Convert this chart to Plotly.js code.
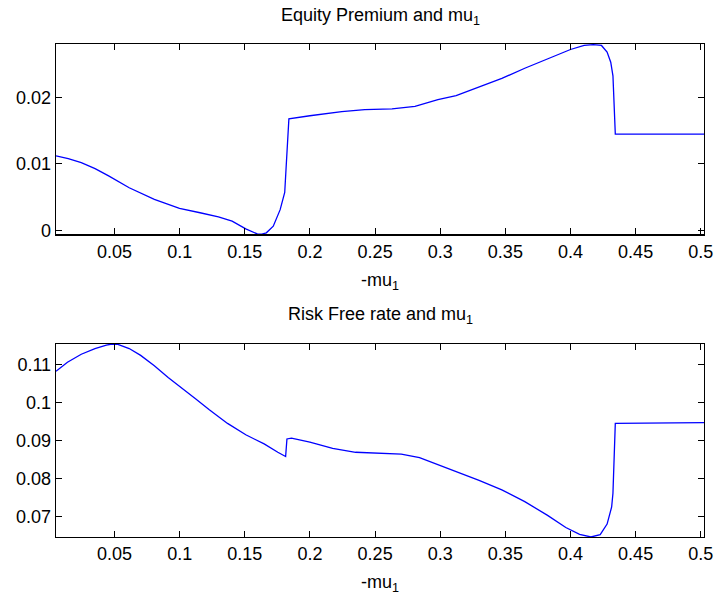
<!DOCTYPE html>
<html>
<head>
<meta charset="utf-8">
<script src="https://cdn.plot.ly/plotly-3.0.1.min.js"></script>
<style>html,body{margin:0;padding:0;background:#fff;}#chart{width:717px;height:596px;}</style>
</head>
<body>
<div id="chart"></div>
<script>
// Equity premium vs -mu1
var epX = [0.005,0.0144,0.0244,0.035,0.0454,0.0612,0.0805,0.0998,0.1156,0.1297,0.1402,0.1507,0.1595,0.1630,0.1665,0.1718,0.1771,0.1806,0.1816,0.1830,0.1838,0.1999,0.2244,0.242,0.263,0.2806,0.2982,0.3122,0.3298,0.3473,0.3649,0.3824,0.4,0.4105,0.4175,0.4238,0.4281,0.4309,0.4326,0.4344,0.5025];
var epY = [0.01121,0.0108,0.0102,0.0093,0.0082,0.0064,0.00465,0.00328,0.00263,0.00202,0.00136,0.0002,-0.00056,-0.0006,-0.0004,0.0006,0.0031,0.0057,0.0092,0.0150,0.0168,0.01727,0.01788,0.0182,0.0183,0.01869,0.0197,0.0203,0.02157,0.0229,0.02444,0.02586,0.02727,0.02788,0.0280,0.02788,0.02687,0.02535,0.0233,0.0145,0.0145];
// Risk free rate vs -mu1
var rfX = [0.005,0.0138,0.0244,0.0349,0.0437,0.0481,0.0525,0.0612,0.07,0.0805,0.0911,0.1016,0.1121,0.1227,0.1367,0.1507,0.1648,0.1753,0.1813,0.1823,0.1858,0.1999,0.2174,0.235,0.2525,0.2701,0.2841,0.2982,0.3122,0.3298,0.3473,0.3649,0.3824,0.3964,0.407,0.4157,0.4228,0.4281,0.4316,0.4326,0.4344,0.5025];
var rfY = [0.1082,0.1106,0.1127,0.1142,0.1151,0.1154,0.1153,0.1142,0.1124,0.1097,0.1066,0.1039,0.1010,0.0981,0.0945,0.0915,0.0891,0.0869,0.0858,0.0904,0.0906,0.0896,0.0879,0.0869,0.0866,0.0864,0.0855,0.0837,0.0819,0.0795,0.0770,0.0739,0.0703,0.0671,0.0653,0.0646,0.0652,0.0680,0.0725,0.0761,0.0945,0.0947];

var xTickVals = [0.05,0.1,0.15,0.2,0.25,0.3,0.35,0.4,0.45,0.5];
var xTickText = ["0.05","0.1","0.15","0.2","0.25","0.3","0.35","0.4","0.45","0.5"];
var epTickVals = [0,0.01,0.02];
var epTickText = ["0","0.01","0.02"];
var rfTickVals = [0.07,0.08,0.09,0.1,0.11];
var rfTickText = ["0.07","0.08","0.09","0.1","0.11"];

var titleTop = "Equity Premium and mu<sub>1</sub>";
var titleBottom = "Risk Free rate and mu<sub>1</sub>";
var xLabel = "-mu<sub>1</sub>";

var FONT = {family: "Liberation Sans, Arial, Helvetica, sans-serif", size: 18, color: "#000"};

function axisBase() {
  return {
    showline: true, linecolor: "#000", linewidth: 1.3, mirror: "ticks",
    ticks: "inside", ticklen: 6, tickwidth: 1, tickcolor: "#000",
    showgrid: false, zeroline: false, tickfont: FONT, fixedrange: true
  };
}

var xa1 = Object.assign(axisBase(), {domain: [0,1], range: [0.005,0.5025], tickmode: "array", tickvals: xTickVals, ticktext: xTickText, anchor: "y", ticklabelstandoff: 1,
  title: {text: xLabel, font: FONT, standoff: 12}});
var ya1 = Object.assign(axisBase(), {domain: [0.6136,1], range: [-0.00065,0.0281], tickmode: "array", tickvals: epTickVals, ticktext: epTickText, anchor: "x"});
var xa2 = Object.assign(axisBase(), {domain: [0,1], range: [0.005,0.5025], tickmode: "array", tickvals: xTickVals, ticktext: xTickText, anchor: "y2", ticklabelstandoff: 0,
  title: {text: xLabel, font: FONT, standoff: 12}});
var ya2 = Object.assign(axisBase(), {domain: [0,0.3915], range: [0.0646,0.1154], tickmode: "array", tickvals: rfTickVals, ticktext: rfTickText, anchor: "x2"});

var traces = [
  {x: epX, y: epY, xaxis: "x", yaxis: "y", type: "scatter", mode: "lines", line: {color: "#0000ff", width: 1.3}, hoverinfo: "none"},
  {x: rfX, y: rfY, xaxis: "x2", yaxis: "y2", type: "scatter", mode: "lines", line: {color: "#0000ff", width: 1.3}, hoverinfo: "none"}
];

var layout = {
  width: 717, height: 596,
  margin: {l: 56, r: 12.5, t: 44, b: 59},
  paper_bgcolor: "#fff", plot_bgcolor: "#fff",
  showlegend: false,
  font: FONT,
  xaxis: xa1, yaxis: ya1, xaxis2: xa2, yaxis2: ya2,
  annotations: [
    {text: titleTop, xref: "paper", yref: "paper", x: 0.5, y: 1, yshift: 14, xanchor: "center", yanchor: "bottom", showarrow: false, font: FONT},
    {text: titleBottom, xref: "paper", yref: "paper", x: 0.5, y: 0.3915, yshift: 15, xanchor: "center", yanchor: "bottom", showarrow: false, font: FONT}
  ]
};

Plotly.newPlot("chart", traces, layout, {displayModeBar: false, staticPlot: true});
</script>
</body>
</html>
